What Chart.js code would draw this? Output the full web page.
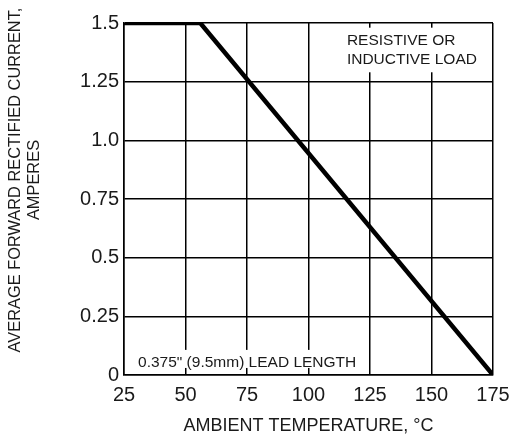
<!DOCTYPE html>
<html>
<head>
<meta charset="utf-8">
<script src="https://cdn.jsdelivr.net/npm/chart.js@4"></script>
<style>
  html, body { margin: 0; padding: 0; background: #fff; }
  #wrap { width: 512px; height: 441px; }
</style>
</head>
<body>
<div id="wrap"><canvas id="chart" width="512" height="441"></canvas></div>
<script>
// derating curve: flat at 1.5 A, then straight down to 0 at 175 °C
const temps = [25, 56, 175];
const amps = [1.5, 1.5, 0];

const yTickLabels = ["0", "0.25", "0.5", "0.75", "1.0", "1.25", "1.5"];
const xTitle = "AMBIENT TEMPERATURE, °C";
const yTitle = ["AVERAGE FORWARD RECTIFIED CURRENT,", "AMPERES"];
const noteTop = ["RESISTIVE OR", "INDUCTIVE LOAD"];
const noteBottom = "0.375\" (9.5mm) LEAD LENGTH";

const FONT = "'Liberation Sans', Arial, sans-serif";
const INK = "#1a1a1a";

// white boxes with text on top of the grid, placed in data units
const notesPlugin = {
  id: "notes",
  afterDraw(chart) {
    const ctx = chart.ctx;
    const x = chart.scales.x, y = chart.scales.y;
    ctx.save();

    // top right box
    let l = x.getPixelForValue(113), r = x.getPixelForValue(172.5);
    let t = y.getPixelForValue(1.48), b = y.getPixelForValue(1.29);
    ctx.fillStyle = "#fff";
    ctx.fillRect(l, t, r - l, b - t);
    ctx.fillStyle = INK;
    ctx.font = "15.5px " + FONT;
    ctx.textBaseline = "middle";
    ctx.textAlign = "left";
    ctx.fillText(noteTop[0], x.getPixelForValue(115.6), y.getPixelForValue(1.425));
    ctx.fillText(noteTop[1], x.getPixelForValue(115.6), y.getPixelForValue(1.345));

    // bottom left box
    l = x.getPixelForValue(28.3); r = x.getPixelForValue(121.7);
    t = y.getPixelForValue(0.107); b = y.getPixelForValue(0.03);
    ctx.fillStyle = "#fff";
    ctx.fillRect(l, t, r - l, b - t);
    ctx.fillStyle = INK;
    ctx.fillText(noteBottom, x.getPixelForValue(30.7), y.getPixelForValue(0.052));

    // y axis title, two lines, rotated
    ctx.translate(24, 180);
    ctx.rotate(-Math.PI / 2);
    ctx.textAlign = "center";
    ctx.font = "16.4px " + FONT;
    ctx.fillText(yTitle[0], 0, -9);
    ctx.fillText(yTitle[1], 0, 10);
    ctx.restore();
  }
};

new Chart(document.getElementById("chart"), {
  type: "line",
  data: {
    datasets: [{
      data: temps.map((t, i) => ({ x: t, y: amps[i] })),
      borderColor: "#000",
      borderWidth: 4.5,
      pointRadius: 0,
      fill: false,
      tension: 0
    }]
  },
  options: {
    responsive: false,
    animation: false,
    layout: { padding: { left: 0, right: 19, top: 23, bottom: 0 } },
    plugins: {
      legend: { display: false },
      tooltip: { enabled: false }
    },
    scales: {
      x: {
        type: "linear",
        min: 25,
        max: 175,
        ticks: { stepSize: 25, color: INK, font: { family: FONT, size: 20 }, padding: 8 },
        grid: { color: "#000", lineWidth: 1.5, drawTicks: false },
        border: { color: "#000", width: 1.5 },
        title: { display: true, text: xTitle, color: INK, font: { family: FONT, size: 18 }, padding: { top: 17 } },
        afterFit(scale) {
          scale.height = 66;
          scale.paddingLeft = 0;
          scale.paddingRight = 0;
        }
      },
      y: {
        min: 0,
        max: 1.5,
        ticks: {
          stepSize: 0.25,
          color: INK,
          font: { family: FONT, size: 20 },
          padding: 5,
          callback: (v, i) => yTickLabels[i]
        },
        grid: { color: "#000", lineWidth: 1.5, drawTicks: false },
        border: { color: "#000", width: 1.5 },
        afterFit(scale) {
          scale.width = 124;
          scale.paddingTop = 0;
          scale.paddingBottom = 0;
        }
      }
    }
  },
  plugins: [notesPlugin]
});
</script>
</body>
</html>
